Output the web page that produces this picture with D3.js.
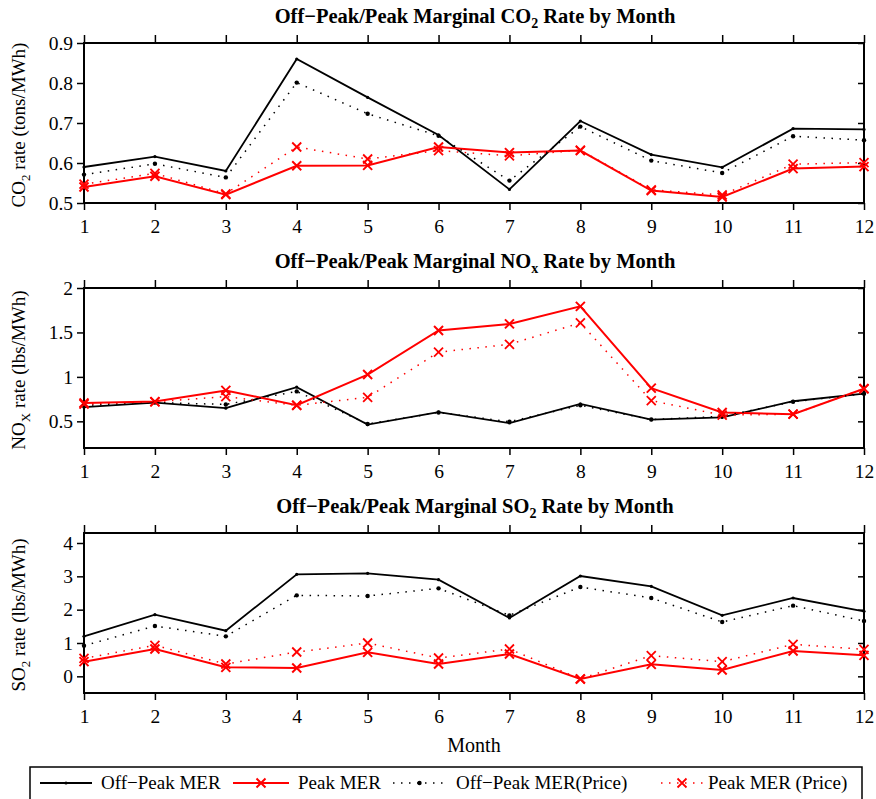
<!DOCTYPE html>
<html>
<head>
<meta charset="utf-8">
<script src="https://cdn.jsdelivr.net/npm/d3@7"></script>
<style>
  html, body { margin: 0; padding: 0; background: #fff; }
  svg { display: block; font-family: "Liberation Serif", "Times New Roman", serif; }
</style>
</head>
<body>
<svg id="chart" width="876" height="799"></svg>
<script>
// ---------- data ----------
const months = [1, 2, 3, 4, 5, 6, 7, 8, 9, 10, 11, 12];

const co2OffPeak      = [0.590, 0.616, 0.580, 0.860, 0.764, 0.670, 0.534, 0.705, 0.621, 0.589, 0.686, 0.684];
const co2Peak         = [0.540, 0.567, 0.521, 0.593, 0.594, 0.640, 0.626, 0.631, 0.531, 0.515, 0.586, 0.591];
const co2OffPeakPrice = [0.571, 0.598, 0.564, 0.801, 0.723, 0.668, 0.556, 0.691, 0.606, 0.575, 0.667, 0.657];
const co2PeakPrice    = [0.547, 0.574, 0.523, 0.640, 0.610, 0.631, 0.618, 0.632, 0.533, 0.520, 0.597, 0.601];

const noxOffPeak      = [0.659, 0.711, 0.648, 0.885, 0.463, 0.604, 0.481, 0.696, 0.519, 0.544, 0.726, 0.811];
const noxPeak         = [0.707, 0.722, 0.848, 0.681, 1.026, 1.522, 1.596, 1.793, 0.874, 0.600, 0.581, 0.867];
const noxOffPeakPrice = [0.680, 0.711, 0.690, 0.837, 0.470, 0.600, 0.496, 0.680, 0.520, 0.556, 0.720, 0.810];
const noxPeakPrice    = [0.693, 0.720, 0.778, 0.680, 0.770, 1.278, 1.367, 1.607, 0.733, 0.570, 0.580, 0.867];

const so2OffPeak      = [1.20, 1.85, 1.37, 3.06, 3.09, 2.90, 1.75, 3.01, 2.70, 1.83, 2.35, 1.95];
const so2Peak         = [0.44, 0.82, 0.27, 0.25, 0.72, 0.37, 0.67, -0.08, 0.36, 0.19, 0.76, 0.63];
const so2OffPeakPrice = [0.92, 1.51, 1.20, 2.43, 2.41, 2.64, 1.83, 2.68, 2.35, 1.63, 2.12, 1.66];
const so2PeakPrice    = [0.54, 0.93, 0.37, 0.73, 1.00, 0.55, 0.82, -0.08, 0.62, 0.44, 0.96, 0.81];

const co2Ticks = [0.5, 0.6, 0.7, 0.8, 0.9];
const noxTicks = [0.5, 1, 1.5, 2];
const so2Ticks = [0, 1, 2, 3, 4];

const seriesNames = ["Off\u2212Peak MER", "Peak MER", "Off\u2212Peak MER(Price)", "Peak MER (Price)"];
const xLabel = "Month";

// ---------- layout ----------
const svg = d3.select("#chart");
const left = 84, right = 864, panelH = 160;
const x = d3.scaleLinear().domain([1, 12]).range([left, right]);
const FONT = "'Liberation Serif', 'Times New Roman', serif";

const panels = [
  { top: 43, domain: [0.5, 0.9], ticks: co2Ticks, fmt: d3.format(".1f"),
    title: ["Off\u2212Peak/Peak Marginal CO", "2", " Rate by Month"],
    ylab: ["CO", "2", " rate (tons/MWh)"],
    data: [co2OffPeak, co2Peak, co2OffPeakPrice, co2PeakPrice] },
  { top: 288, domain: [0.2, 2], ticks: noxTicks, fmt: d => String(d),
    title: ["Off\u2212Peak/Peak Marginal NO", "x", " Rate by Month"],
    ylab: ["NO", "X", " rate (lbs/MWh)"],
    data: [noxOffPeak, noxPeak, noxOffPeakPrice, noxPeakPrice] },
  { top: 533, domain: [-0.5, 4.3], ticks: so2Ticks, fmt: d => String(d),
    title: ["Off\u2212Peak/Peak Marginal SO", "2", " Rate by Month"],
    ylab: ["SO", "2", " rate (lbs/MWh)"],
    data: [so2OffPeak, so2Peak, so2OffPeakPrice, so2PeakPrice] }
];

const styles = [
  { color: "#000", width: 1.8, dash: null, marker: "dot", r: 1.6 },
  { color: "#ff0000", width: 2, dash: null, marker: "x", s: 4.5, mw: 2 },
  { color: "#000", width: 1.5, dash: "1.5,6.5", marker: "dot", r: 2.2 },
  { color: "#ff0000", width: 1.5, dash: "1.5,6.5", marker: "x", s: 4.5, mw: 1.8 }
];

function drawMarker(g, style, cx, cy) {
  if (style.marker === "dot") {
    g.append("circle").attr("cx", cx).attr("cy", cy).attr("r", style.r).attr("fill", style.color);
  } else {
    const s = style.s;
    g.append("path")
      .attr("d", `M${cx - s},${cy - s}L${cx + s},${cy + s}M${cx - s},${cy + s}L${cx + s},${cy - s}`)
      .attr("stroke", style.color).attr("stroke-width", style.mw).attr("fill", "none");
  }
}

function subText(sel, parts, subSize, shift) {
  sel.append("tspan").text(parts[0]);
  sel.append("tspan").attr("font-size", subSize).attr("dy", shift).text(parts[1]);
  sel.append("tspan").attr("dy", -shift).text(parts[2]);
}

panels.forEach(p => {
  const bottom = p.top + panelH;
  const y = d3.scaleLinear().domain(p.domain).range([bottom, p.top]);
  const g = svg.append("g");

  const axL = g.append("g").attr("transform", `translate(${left},0)`)
    .call(d3.axisLeft(y).tickValues(p.ticks).tickSize(7).tickSizeOuter(0).tickPadding(4).tickFormat(p.fmt));
  const axR = g.append("g").attr("transform", `translate(${right},0)`)
    .call(d3.axisRight(y).tickValues(p.ticks).tickSize(-6).tickSizeOuter(0).tickFormat(""));
  const axT = g.append("g").attr("transform", `translate(0,${p.top})`)
    .call(d3.axisTop(x).tickValues(months).tickSize(8).tickSizeOuter(0).tickFormat(""));
  const axB = g.append("g").attr("transform", `translate(0,${bottom})`)
    .call(d3.axisBottom(x).tickValues(months).tickSize(7).tickSizeOuter(0).tickPadding(9).tickFormat(d3.format("d")));
  [axL, axR, axT, axB].forEach(a => {
    a.select(".domain").remove();
    a.selectAll("line").attr("stroke", "#000").attr("stroke-width", 1.5);
    a.selectAll("text").attr("font-size", 19.5).attr("fill", "#000").attr("font-family", FONT);
  });

  g.append("rect").attr("x", left).attr("y", p.top).attr("width", right - left).attr("height", panelH)
    .attr("fill", "none").attr("stroke", "#000").attr("stroke-width", 2);

  p.data.forEach((vals, i) => {
    const st = styles[i];
    const line = d3.line().x((d, j) => x(months[j])).y(d => y(d));
    g.append("path").datum(vals).attr("d", line)
      .attr("fill", "none").attr("stroke", st.color).attr("stroke-width", st.width)
      .attr("stroke-dasharray", st.dash).attr("stroke-linejoin", "miter");
    const mg = g.append("g");
    vals.forEach((v, j) => drawMarker(mg, st, x(months[j]), y(v)));
  });

  const t = g.append("text").attr("x", (left + right) / 2 + 1).attr("y", p.top - 20)
    .attr("text-anchor", "middle").attr("font-size", 20.5).attr("font-weight", "bold");
  subText(t, p.title, 14, 5);

  const yl = g.append("text")
    .attr("transform", `translate(25,${p.top + panelH / 2 + 2}) rotate(-90)`)
    .attr("text-anchor", "middle").attr("font-size", 19);
  subText(yl, p.ylab, 13, 5);
});

svg.append("text").attr("x", (left + right) / 2).attr("y", 752).attr("text-anchor", "middle")
  .attr("font-size", 20).text(xLabel);

const lg = svg.append("g");
lg.append("rect").attr("x", 30).attr("y", 767).attr("width", 832).attr("height", 45)
  .attr("fill", "#fff").attr("stroke", "#000").attr("stroke-width", 1.5);
const legendPos = [
  { x0: 40, x1: 92, tx: 101 },
  { x0: 233, x1: 289, tx: 298 },
  { x0: 393, x1: 446, tx: 456 },
  { x0: 661, x1: 703, tx: 708 }
];
seriesNames.forEach((name, i) => {
  const st = styles[i], lp = legendPos[i], ly = 783;
  lg.append("line").attr("x1", lp.x0).attr("x2", lp.x1).attr("y1", ly).attr("y2", ly)
    .attr("stroke", st.color).attr("stroke-width", st.width).attr("stroke-dasharray", st.dash);
  drawMarker(lg, st, (lp.x0 + lp.x1) / 2, ly);
  lg.append("text").attr("x", lp.tx).attr("y", ly + 6).attr("font-size", 19).text(name);
});
</script>
</body>
</html>
